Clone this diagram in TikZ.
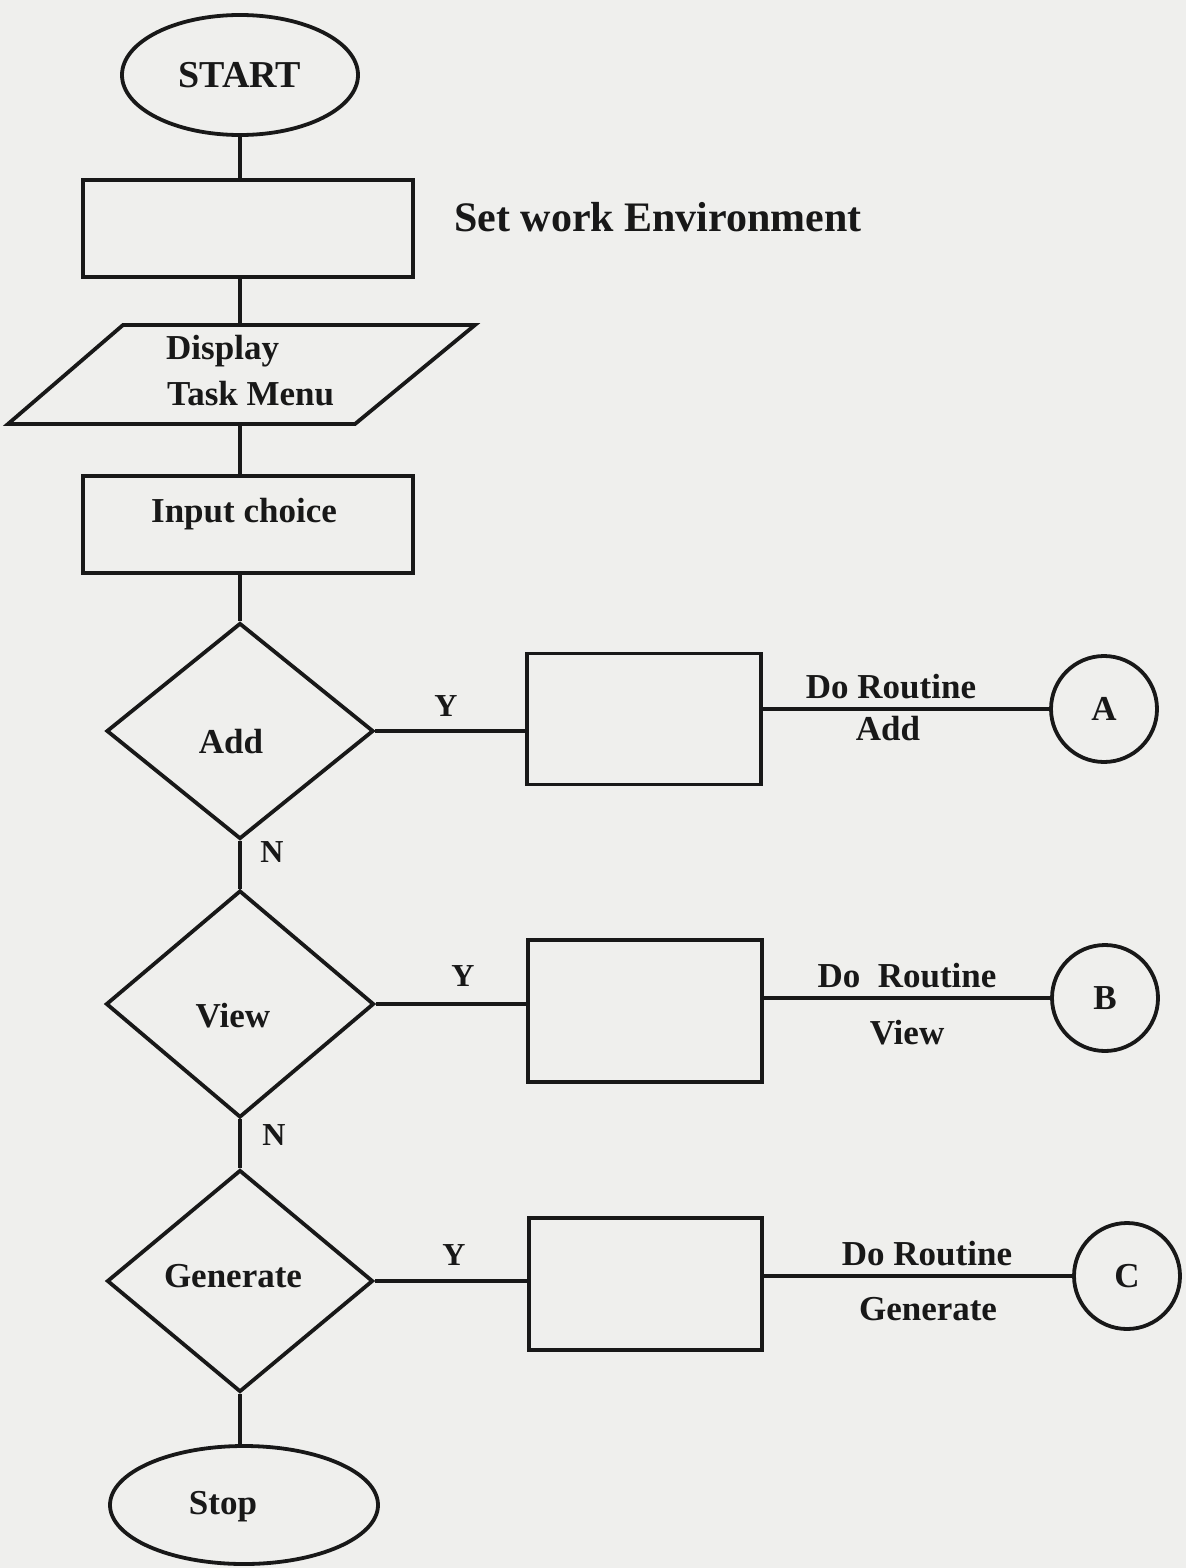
\documentclass[tikz,border=0pt]{standalone}
\usepackage{fontspec}
\setmainfont{Liberation Serif}
\usetikzlibrary{shapes.geometric}

\definecolor{paper}{RGB}{239,239,237}
\definecolor{ink}{RGB}{24,24,24}

\newcommand\lblfont{\fontsize{35}{40}\selectfont\bfseries}
\newcommand\bigfont{\fontsize{38}{44}\selectfont\bfseries}
\newcommand\envfont{\fontsize{42}{48}\selectfont\bfseries}
\newcommand\ynfont{\fontsize{32}{38}\selectfont\bfseries}

\tikzset{
  flow/.style={draw=ink, line width=3.8pt, inner sep=0pt, text=ink},
  terminal/.style={flow, ellipse},
  process/.style={flow, rectangle},
  decision/.style={flow, diamond},
  connector/.style={flow, circle, minimum size=106pt, font=\lblfont},
  link/.style={draw=ink, line width=3.8pt},
  txt/.style={anchor=base, inner sep=0pt, text=ink, font=\lblfont},
  yn/.style={anchor=base, inner sep=0pt, text=ink, font=\ynfont}
}

\begin{document}
\begin{tikzpicture}[x=1pt, y=-1pt]
  % paper
  \fill[paper] (0,0) rectangle (1186,1568);
  \useasboundingbox (0,0) rectangle (1186,1568);

  % main column
  \node[terminal, minimum width=236pt, minimum height=120pt, font=\bigfont] (start) at (240,75) {START};
  \node[process, minimum width=330pt, minimum height=97pt] (env) at (248,228.5) {};
  \node[txt, font=\envfont] (envtxt) at (658,231) {Set work Environment};

  % display parallelogram
  \draw[link] (123,325) -- (475,325) -- (355,424) -- (8,424) -- cycle;
  \coordinate (dtop) at (240,325);
  \coordinate (dbot) at (240,424);
  \node[txt, anchor=base west] (disp1) at (166,359) {Display};
  \node[txt, anchor=base west] (disp2) at (167,405) {Task Menu};

  \node[process, minimum width=330pt, minimum height=97pt] (input) at (248,524.5) {};
  \node[txt] (inputtxt) at (244,522) {Input choice};

  % decisions
  \node[decision, minimum width=267pt, minimum height=216pt] (add) at (240,731) {};
  \node[txt] (addtxt) at (231,753) {Add};
  \node[decision, minimum width=268pt, minimum height=227pt] (view) at (240,1004) {};
  \node[txt] (viewtxt) at (233,1027) {View};
  \node[decision, minimum width=266pt, minimum height=222pt] (gen) at (240,1281) {};
  \node[txt] (gentxt) at (233,1287) {Generate};

  \node[terminal, minimum width=268pt, minimum height=118pt] (stop) at (244,1505) {};
  \node[txt] (stoptxt) at (223,1514) {Stop};

  % routine boxes
  \node[process, minimum width=234pt, minimum height=131pt] (boxA) at (644,719) {};
  \node[process, minimum width=234pt, minimum height=142pt] (boxB) at (645,1011) {};
  \node[process, minimum width=233pt, minimum height=132pt] (boxC) at (645.5,1284) {};

  % off-page connectors
  \node[connector] (A) at (1104,709) {A};
  \node[connector] (B) at (1105,998) {B};
  \node[connector] (C) at (1127,1276) {C};

  % vertical flow
  \draw[link] (start.south) -- (start.south |- env.north);
  \draw[link] (start.south |- env.south) -- (dtop);
  \draw[link] (dbot) -- (dbot |- input.north);
  \draw[link] (dbot |- input.south) -- (add.north);
  \draw[link] (add.south) -- (view.north);
  \draw[link] (view.south) -- (gen.north);
  \draw[link] (gen.south) -- (gen.south |- stop.north);

  % yes branches
  \draw[link] (add.east) -- (add.east -| boxA.west);
  \draw[link] (view.east) -- (view.east -| boxB.west);
  \draw[link] (gen.east) -- (gen.east -| boxC.west);
  \draw[link] (boxA.east |- A.west) -- (A.west);
  \draw[link] (boxB.east |- B.west) -- (B.west);
  \draw[link] (boxC.east |- C.west) -- (C.west);

  % branch labels
  \node[yn] (yA) at (446,716) {Y};
  \node[yn] (yB) at (463,986) {Y};
  \node[yn] (yC) at (454,1265) {Y};
  \node[yn] (nA) at (272,862) {N};
  \node[yn] (nB) at (274,1145) {N};

  \node[txt] (rA1) at (891,698) {Do Routine};
  \node[txt] (rA2) at (888,740) {Add};
  \node[txt] (rB1) at (907,987) {Do\ \ Routine};
  \node[txt] (rB2) at (907,1044) {View};
  \node[txt] (rC1) at (927,1265) {Do Routine};
  \node[txt] (rC2) at (928,1320) {Generate};
\end{tikzpicture}
\end{document}
